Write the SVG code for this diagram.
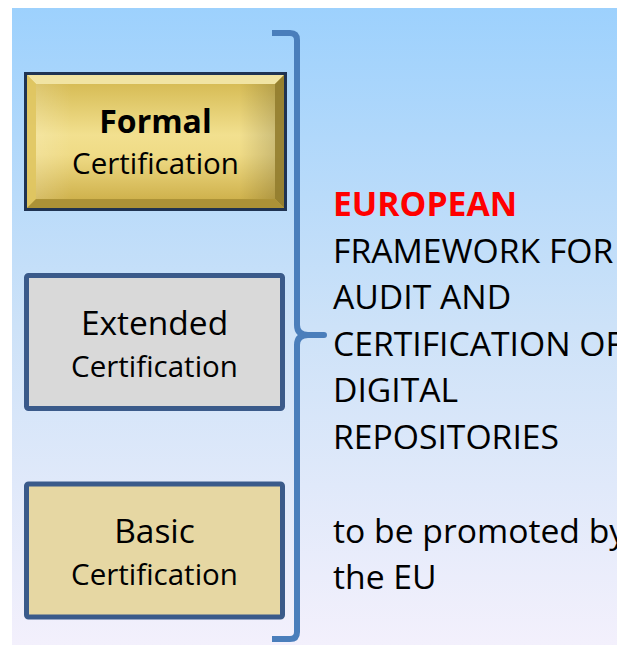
<svg xmlns="http://www.w3.org/2000/svg" width="619" height="645" viewBox="0 0 619 645">
  <defs>
    <linearGradient id="bg" x1="0" y1="0" x2="0" y2="1">
      <stop offset="0" stop-color="#9dd1fd"/>
      <stop offset="0.5" stop-color="#cde2f8"/>
      <stop offset="1" stop-color="#f3f0fc"/>
    </linearGradient>
    <linearGradient id="gold" x1="0" y1="0" x2="0" y2="1">
      <stop offset="0" stop-color="#d2b64c"/>
      <stop offset="0.45" stop-color="#f2e08f"/>
      <stop offset="0.6" stop-color="#efdb86"/>
      <stop offset="1" stop-color="#c9aa42"/>
    </linearGradient>
    <linearGradient id="goldside" x1="0" y1="0" x2="1" y2="0">
      <stop offset="0" stop-color="#fff" stop-opacity="0.15"/>
      <stop offset="0.15" stop-color="#fff" stop-opacity="0"/>
      <stop offset="0.85" stop-color="#000" stop-opacity="0"/>
      <stop offset="1" stop-color="#000" stop-opacity="0.15"/>
    </linearGradient>
    <clipPath id="clipR">
      <rect x="12" y="8" width="605" height="637"/>
    </clipPath>
    <style>
      .t { font-family: "Open Sans", "Noto Sans", sans-serif; fill: #000; }
      .box { stroke: #3a5a8a; stroke-width: 5; }
      .lbl { text-anchor: middle; }
      .big { font-size: 33.5px; }
      .small { font-size: 29.5px; }
      .side { font-size: 33.7px; }
    </style>
  </defs>

  <rect x="12" y="8" width="605" height="637" fill="url(#bg)"/>

  <g id="node-formal">
    <rect x="24" y="72" width="263" height="139" fill="#1f3352"/>
    <rect x="27" y="75" width="257" height="133" fill="url(#gold)"/>
    <polygon points="27,75 284,75 275,84 36,84" fill="#f6ebb2" opacity="0.85"/>
    <polygon points="27,75 36,84 36,199 27,208" fill="#e0c663" opacity="0.9"/>
    <polygon points="284,75 275,84 275,199 284,208" fill="#8f7a2c" opacity="0.9"/>
    <polygon points="27,208 36,199 275,199 284,208" fill="#a88f35" opacity="0.9"/>
    <rect x="36" y="84" width="239" height="115" fill="url(#goldside)"/>
    <text class="t lbl" x="155.5" y="133" font-size="32px" font-weight="bold">Formal</text>
    <text class="t lbl small" x="155.5" y="174">Certification</text>
  </g>

  <g id="node-extended">
    <rect class="box" x="26.5" y="275.5" width="256" height="133" rx="2" fill="#d9d9d9"/>
    <text class="t lbl big" x="154.5" y="335">Extended</text>
    <text class="t lbl small" x="154.5" y="377">Certification</text>
  </g>

  <g id="node-basic">
    <rect class="box" x="26.5" y="484" width="256" height="133" rx="2" fill="#e6d7a3"/>
    <text class="t lbl big" x="154.5" y="543">Basic</text>
    <text class="t lbl small" x="154.5" y="585">Certification</text>
  </g>

  <g id="connectors">
    <path d="M272,33 L290,33 Q297,33 297,40 L297,325 Q297,335 308,335 L324,335 L308,335 Q297,335 297,345 L297,632 Q297,639 290,639 L272,639" fill="none" stroke="#4a7ebb" stroke-width="6" stroke-linejoin="round"/>
  </g>

  <g id="side-text" clip-path="url(#clipR)">
    <text class="t side" x="333" y="216" font-weight="bold" style="fill:#ff0000">EUROPEAN</text>
    <text class="t side" x="333" y="263">FRAMEWORK FOR</text>
    <text class="t side" x="333" y="309">AUDIT AND</text>
    <text class="t side" x="333" y="356">CERTIFICATION OF</text>
    <text class="t side" x="333" y="402">DIGITAL</text>
    <text class="t side" x="333" y="449">REPOSITORIES</text>
    <text class="t side" x="333" y="543">to be promoted by</text>
    <text class="t side" x="333" y="589">the EU</text>
  </g>
</svg>
